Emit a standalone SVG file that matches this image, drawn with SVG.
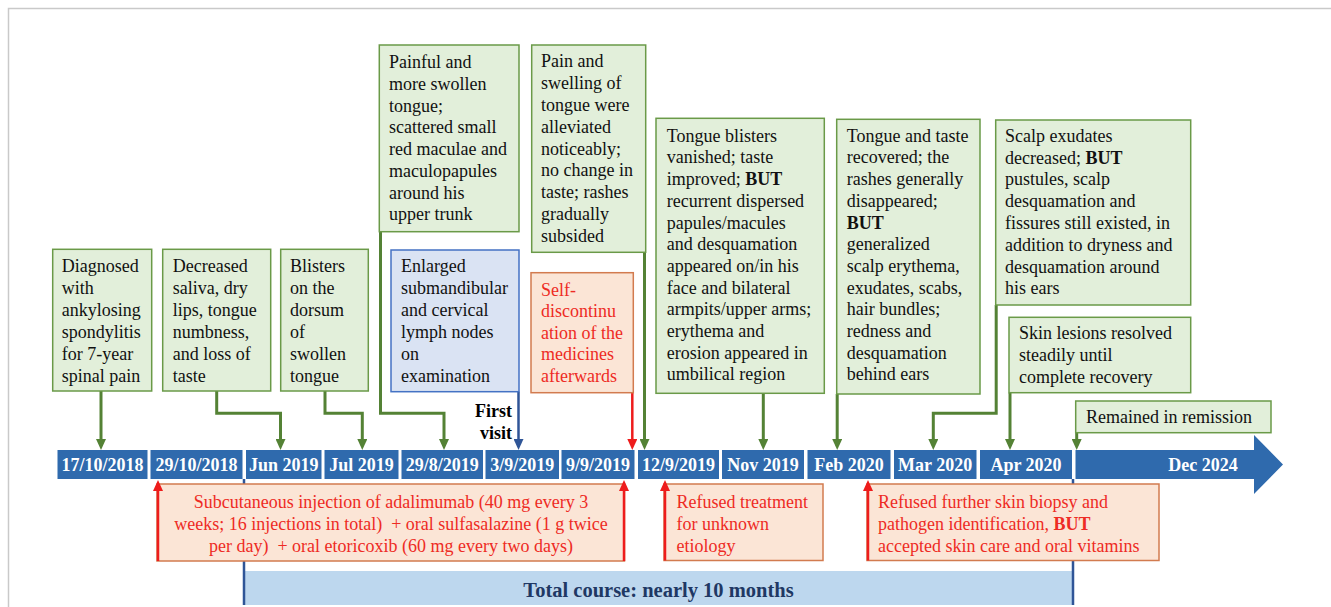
<svg xmlns="http://www.w3.org/2000/svg" width="1331" height="607" viewBox="0 0 1331 607">
<defs>
<style>
text{font-family:"Liberation Serif","Times New Roman",serif;font-size:18px;}
.gbox{fill:#e2efda;stroke:#6a9a48;stroke-width:1.5;}
.bbox{fill:#dae3f3;stroke:#4472c4;stroke-width:1.5;}
.rbox{fill:#fbe5d6;stroke:#d27b4f;stroke-width:1.5;}
.date{fill:#2f6aad;}
.dt{fill:#fff;font-weight:bold;text-anchor:middle;}
.tk{fill:#111;}
.tr{fill:#ee2b24;}
.b{font-weight:bold;}
.gc{fill:none;stroke:#548235;stroke-width:3;marker-end:url(#ag);}
.bc{fill:none;stroke:#2f5597;stroke-width:2.5;marker-end:url(#ab);}
.rc{fill:none;stroke:#ee1c1c;stroke-width:2.5;marker-end:url(#ar);}
.pre{white-space:pre;}
</style>
<marker id="ag" markerUnits="userSpaceOnUse" markerWidth="11" markerHeight="10" viewBox="0 0 11 10" refX="7" refY="5" orient="auto"><path d="M0,0 L11,5 L0,10 z" fill="#548235"/></marker>
<marker id="ab" markerUnits="userSpaceOnUse" markerWidth="11" markerHeight="10" viewBox="0 0 11 10" refX="7" refY="5" orient="auto"><path d="M0,0 L11,5 L0,10 z" fill="#2f5597"/></marker>
<marker id="ar" markerUnits="userSpaceOnUse" markerWidth="11" markerHeight="10" viewBox="0 0 11 10" refX="7" refY="5" orient="auto"><path d="M0,0 L11,5 L0,10 z" fill="#ee1c1c"/></marker>
</defs>
<rect x="0" y="0" width="1331" height="607" fill="#fff"/>
<path d="M8.5,607 V8.5 H1331" fill="none" stroke="#c9c9c9" stroke-width="1.5"/>

<!-- total course -->
<g id="total-course">
<rect x="244" y="571" width="829" height="34" fill="#bdd7ee"/>
<path d="M244,479 V605 M1073,479 V605" stroke="#2f5597" stroke-width="2.5" fill="none"/>
<text x="658.5" y="597" text-anchor="middle" style="font-size:20.5px;font-weight:bold;fill:#1f3864">Total course: nearly 10 months</text>
</g>

<!-- timeline -->
<g id="timeline">
<rect class="date" x="57.5" y="450" width="90" height="29"/>
<rect class="date" x="150.5" y="450" width="92" height="29"/>
<rect class="date" x="246" y="450" width="75.5" height="29"/>
<rect class="date" x="324.5" y="450" width="74" height="29"/>
<rect class="date" x="401.5" y="450" width="81.5" height="29"/>
<rect class="date" x="485.5" y="450" width="73.5" height="29"/>
<rect class="date" x="561.5" y="450" width="73" height="29"/>
<rect class="date" x="638" y="450" width="81" height="29"/>
<rect class="date" x="722" y="450" width="82" height="29"/>
<rect class="date" x="807.5" y="450" width="83" height="29"/>
<rect class="date" x="894" y="450" width="82.5" height="29"/>
<rect class="date" x="980" y="450" width="92" height="29"/>
<polygon class="date" points="1075.5,450 1254,450 1254,435 1283,464.5 1254,494 1254,479 1075.5,479"/>
<text class="dt" x="102.5" y="471">17/10/2018</text>
<text class="dt" x="196.5" y="471">29/10/2018</text>
<text class="dt" x="283.7" y="471">Jun 2019</text>
<text class="dt" x="361.5" y="471">Jul 2019</text>
<text class="dt" x="442.2" y="471">29/8/2019</text>
<text class="dt" x="522.2" y="471">3/9/2019</text>
<text class="dt" x="598" y="471">9/9/2019</text>
<text class="dt" x="678.5" y="471">12/9/2019</text>
<text class="dt" x="763" y="471">Nov 2019</text>
<text class="dt" x="849" y="471">Feb 2020</text>
<text class="dt" x="935.2" y="471">Mar 2020</text>
<text class="dt" x="1026" y="471">Apr 2020</text>
<text class="dt" x="1203" y="471">Dec 2024</text>
</g>

<!-- connectors -->
<g id="connectors">
<path class="gc" d="M101,391 V446"/>
<path class="gc" d="M216.7,391 V413.3 H280.5 V446"/>
<path class="gc" d="M325,391 V413.3 H362.3 V446"/>
<path class="gc" d="M380.5,231.7 V413.3 H444 V446"/>
<path class="gc" d="M644.5,252.3 V446"/>
<path class="bc" d="M518.5,391.7 V446"/>
<path class="rc" d="M632.3,392.7 V446"/>
<path class="gc" d="M763.3,393.3 V446"/>
<path class="gc" d="M837.2,394 V446"/>
<path class="gc" d="M996.2,305 V413.3 H933.3 V446"/>
<path class="gc" d="M1010,392.7 V446"/>
<path class="gc" d="M1076.7,432.7 V446"/>
</g>

<g id="first-visit">
<text class="b" x="512" y="416.7" text-anchor="end">First</text>
<text class="b" x="512" y="439.3" text-anchor="end">visit</text>
</g>

<!-- green nodes -->
<g id="n-diagnosed">
<rect class="gbox" x="52.7" y="249.3" width="99" height="141.7"/>
<text class="tk"><tspan x="61.7" y="271.7">Diagnosed</tspan><tspan x="61.7" y="293.7">with</tspan><tspan x="61.7" y="315.7">ankylosing</tspan><tspan x="61.7" y="337.7">spondylitis</tspan><tspan x="61.7" y="359.7">for 7-year</tspan><tspan x="61.7" y="381.7">spinal pain</tspan></text>
</g>
<g id="n-decreased">
<rect class="gbox" x="162.7" y="249.3" width="108" height="141.7"/>
<text class="tk"><tspan x="172.7" y="271.7">Decreased</tspan><tspan x="172.7" y="293.7">saliva, dry</tspan><tspan x="172.7" y="315.7">lips, tongue</tspan><tspan x="172.7" y="337.7">numbness,</tspan><tspan x="172.7" y="359.7">and loss of</tspan><tspan x="172.7" y="381.7">taste</tspan></text>
</g>
<g id="n-blisters">
<rect class="gbox" x="280.7" y="249.3" width="87.6" height="141.7"/>
<text class="tk"><tspan x="290" y="271.7">Blisters</tspan><tspan x="290" y="293.7">on the</tspan><tspan x="290" y="315.7">dorsum</tspan><tspan x="290" y="337.7">of</tspan><tspan x="290" y="359.7">swollen</tspan><tspan x="290" y="381.7">tongue</tspan></text>
</g>
<g id="n-painful">
<rect class="gbox" x="379.3" y="45" width="139.7" height="186.7"/>
<text class="tk"><tspan x="389" y="68.3">Painful and</tspan><tspan x="389" y="90">more swollen</tspan><tspan x="389" y="111.7">tongue;</tspan><tspan x="389" y="133.4">scattered small</tspan><tspan x="389" y="155.1">red maculae and</tspan><tspan x="389" y="176.8">maculopapules</tspan><tspan x="389" y="198.5">around his</tspan><tspan x="389" y="220.2">upper trunk</tspan></text>
</g>
<g id="n-pain-swelling">
<rect class="gbox" x="531.7" y="45" width="114" height="207.3"/>
<text class="tk"><tspan x="541" y="67.3">Pain and</tspan><tspan x="541" y="89.1">swelling of</tspan><tspan x="541" y="110.9">tongue were</tspan><tspan x="541" y="132.7">alleviated</tspan><tspan x="541" y="154.5">noticeably;</tspan><tspan x="541" y="176.3">no change in</tspan><tspan x="541" y="198.1">taste; rashes</tspan><tspan x="541" y="219.9">gradually</tspan><tspan x="541" y="241.7">subsided</tspan></text>
</g>
<g id="n-lymph">
<rect class="bbox" x="391" y="250" width="128" height="141.7"/>
<text class="tk"><tspan x="401" y="272.3">Enlarged</tspan><tspan x="401" y="294.2">submandibular</tspan><tspan x="401" y="316.1">and cervical</tspan><tspan x="401" y="338">lymph nodes</tspan><tspan x="401" y="359.9">on</tspan><tspan x="401" y="381.8">examination</tspan></text>
</g>
<g id="n-self-discontinuation">
<rect class="rbox" x="531" y="272.7" width="102.3" height="120"/>
<text class="tr"><tspan x="541" y="296">Self-</tspan><tspan x="541" y="317.4">discontinu</tspan><tspan x="541" y="338.8">ation of the</tspan><tspan x="541" y="360.2">medicines</tspan><tspan x="541" y="381.6">afterwards</tspan></text>
</g>
<g id="n-tongue-blisters">
<rect class="gbox" x="656" y="118.3" width="168.3" height="275"/>
<text class="tk"><tspan x="666.7" y="141.7">Tongue blisters</tspan><tspan x="666.7" y="163.4">vanished; taste</tspan><tspan x="666.7" y="185.1">improved; <tspan class="b">BUT</tspan></tspan><tspan x="666.7" y="206.8">recurrent dispersed</tspan><tspan x="666.7" y="228.5">papules/macules</tspan><tspan x="666.7" y="250.2">and desquamation</tspan><tspan x="666.7" y="271.9">appeared on/in his</tspan><tspan x="666.7" y="293.6">face and bilateral</tspan><tspan x="666.7" y="315.3">armpits/upper arms;</tspan><tspan x="666.7" y="337">erythema and</tspan><tspan x="666.7" y="358.7">erosion appeared in</tspan><tspan x="666.7" y="380.4">umbilical region</tspan></text>
</g>
<g id="n-tongue-taste">
<rect class="gbox" x="836.7" y="119.3" width="143.3" height="274.7"/>
<text class="tk"><tspan x="846.7" y="141.7">Tongue and taste</tspan><tspan x="846.7" y="163.4">recovered; the</tspan><tspan x="846.7" y="185.1">rashes generally</tspan><tspan x="846.7" y="206.8">disappeared;</tspan><tspan x="846.7" y="228.5" class="b">BUT</tspan><tspan x="846.7" y="250.2">generalized</tspan><tspan x="846.7" y="271.9">scalp erythema,</tspan><tspan x="846.7" y="293.6">exudates, scabs,</tspan><tspan x="846.7" y="315.3">hair bundles;</tspan><tspan x="846.7" y="337">redness and</tspan><tspan x="846.7" y="358.7">desquamation</tspan><tspan x="846.7" y="380.4">behind ears</tspan></text>
</g>
<g id="n-scalp">
<rect class="gbox" x="995.7" y="120" width="195" height="185"/>
<text class="tk"><tspan x="1005" y="141.7">Scalp exudates</tspan><tspan x="1005" y="163.5">decreased; <tspan class="b">BUT</tspan></tspan><tspan x="1005" y="185.3">pustules, scalp</tspan><tspan x="1005" y="207.1">desquamation and</tspan><tspan x="1005" y="228.9">fissures still existed, in</tspan><tspan x="1005" y="250.7">addition to dryness and</tspan><tspan x="1005" y="272.5">desquamation around</tspan><tspan x="1005" y="294.3">his ears</tspan></text>
</g>
<g id="n-skin-lesions">
<rect class="gbox" x="1009" y="317.3" width="181.7" height="75.4"/>
<text class="tk"><tspan x="1019" y="339.3">Skin lesions resolved</tspan><tspan x="1019" y="361">steadily until</tspan><tspan x="1019" y="382.7">complete recovery</tspan></text>
</g>
<g id="n-remission">
<rect class="gbox" x="1075.7" y="401" width="195.3" height="31.7"/>
<text class="tk" x="1086" y="423.3">Remained in remission</text>
</g>

<!-- red treatment nodes -->
<g id="n-treatment">
<rect class="rbox" x="157" y="484" width="467.5" height="77"/>
<text class="tr pre" text-anchor="middle"><tspan x="391" y="508.3">Subcutaneous injection of adalimumab (40 mg every 3</tspan><tspan x="391" y="530">weeks; 16 injections in total)  + oral sulfasalazine (1 g twice</tspan><tspan x="391" y="551.7">per day)  + oral etoricoxib (60 mg every two days)</tspan></text>
</g>
<g id="n-refused-treatment">
<rect class="rbox" x="664" y="484" width="159" height="76.5"/>
<text class="tr"><tspan x="676.5" y="508.3">Refused treatment</tspan><tspan x="676.5" y="530">for unknown</tspan><tspan x="676.5" y="551.7">etiology</tspan></text>
</g>
<g id="n-refused-biopsy">
<rect class="rbox" x="867" y="484" width="292" height="76.5"/>
<text class="tr"><tspan x="878" y="508.3">Refused further skin biopsy and</tspan><tspan x="878" y="530">pathogen identification, <tspan class="b">BUT</tspan></tspan><tspan x="878" y="551.7">accepted skin care and oral vitamins</tspan></text>
</g>

<g id="treatment-connectors">
<path class="rc" d="M158,561 V484"/>
<path class="rc" d="M624,561 V484"/>
<path class="rc" d="M665,560.5 V484"/>
<path class="rc" d="M868,560.5 V484"/>
</g>
</svg>
